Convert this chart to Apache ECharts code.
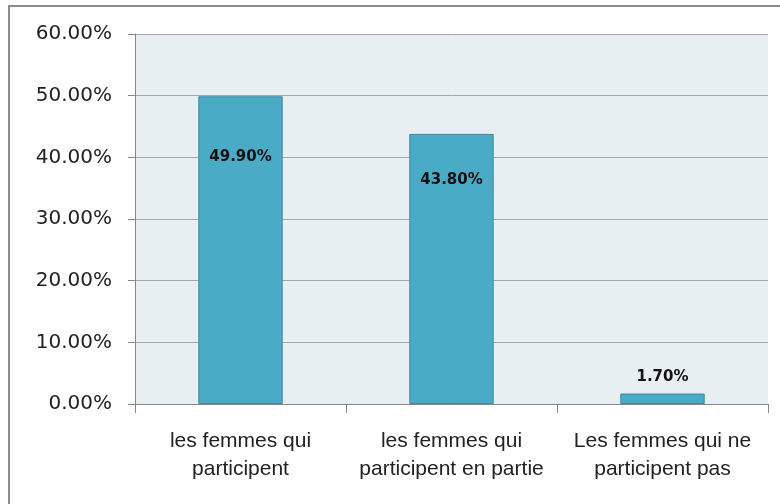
<!DOCTYPE html>
<html>
<head>
<meta charset="utf-8">
<script src="https://cdn.jsdelivr.net/npm/echarts@6/dist/echarts.min.js"></script>
<style>
  html, body { margin: 0; padding: 0; background: #fff; }
  #chart { width: 780px; height: 504px; }
</style>
</head>
<body>
<div id="chart"></div>
<script>
  // catégories et valeurs (%)
  var categories = ['les femmes qui\nparticipent', 'les femmes qui\nparticipent en partie', 'Les femmes qui ne\nparticipent pas']
  var values = [49.9, 43.8, 1.7]
  var yTicks = [0, 10, 20, 30, 40, 50, 60]

  // position des étiquettes (comme dans l'original)
  var labelPlace = [
    { position: 'insideTop', distance: 53 },
    { position: 'insideTop', distance: 39 },
    { position: 'top', distance: 9 }
  ]

  var chart = echarts.init(document.getElementById('chart'))
  var options = {
    animation: false,
    graphic: [{
      type: 'rect',
      shape: { x: 9, y: 6, width: 900, height: 700 },
      style: { fill: 'none', stroke: '#8c8c8c', lineWidth: 2 },
      silent: true
    }],
    grid: {
      left: 135,
      right: 12,
      top: 34,
      bottom: 100,
      show: true,
      backgroundColor: '#e8eff3',
      borderWidth: 0
    },
    xAxis: {
      type: 'category',
      data: categories,
      boundaryGap: true,
      axisLine: { lineStyle: { color: '#868686', width: 1 } },
      axisTick: { show: true, length: 9, lineStyle: { color: '#868686' } },
      axisLabel: {
        color: '#222',
        fontFamily: 'Liberation Sans',
        fontSize: 21,
        lineHeight: 28,
        margin: 23,
        interval: 0
      }
    },
    yAxis: {
      type: 'value',
      min: yTicks[0],
      max: yTicks[yTicks.length - 1],
      interval: 10,
      axisLine: { show: true, lineStyle: { color: '#868686', width: 1 } },
      axisTick: { show: true, length: 7, lineStyle: { color: '#868686' } },
      axisLabel: {
        color: '#222',
        fontFamily: 'DejaVu Sans',
        fontSize: 20,
        margin: 23,
        formatter: function(v) { return v.toFixed(2) + '%' }
      },
      splitLine: { show: true, lineStyle: { color: '#a6a6a6', width: 1 } }
    },
    series: [{
      type: 'bar',
      barWidth: '40%',
      data: values.map(function(v, i) {
        return { value: v, label: labelPlace[i] }
      }),
      itemStyle: {
        color: '#4aabc6',
        borderColor: '#3a8aa2',
        borderWidth: 1
      },
      label: {
        show: true,
        color: '#111',
        fontFamily: 'DejaVu Sans',
        fontWeight: 'bold',
        fontSize: 15,
        formatter: function(p) { return p.value.toFixed(2) + '%' }
      }
    }]
  }
  chart.setOption(options)
</script>
</body>
</html>
